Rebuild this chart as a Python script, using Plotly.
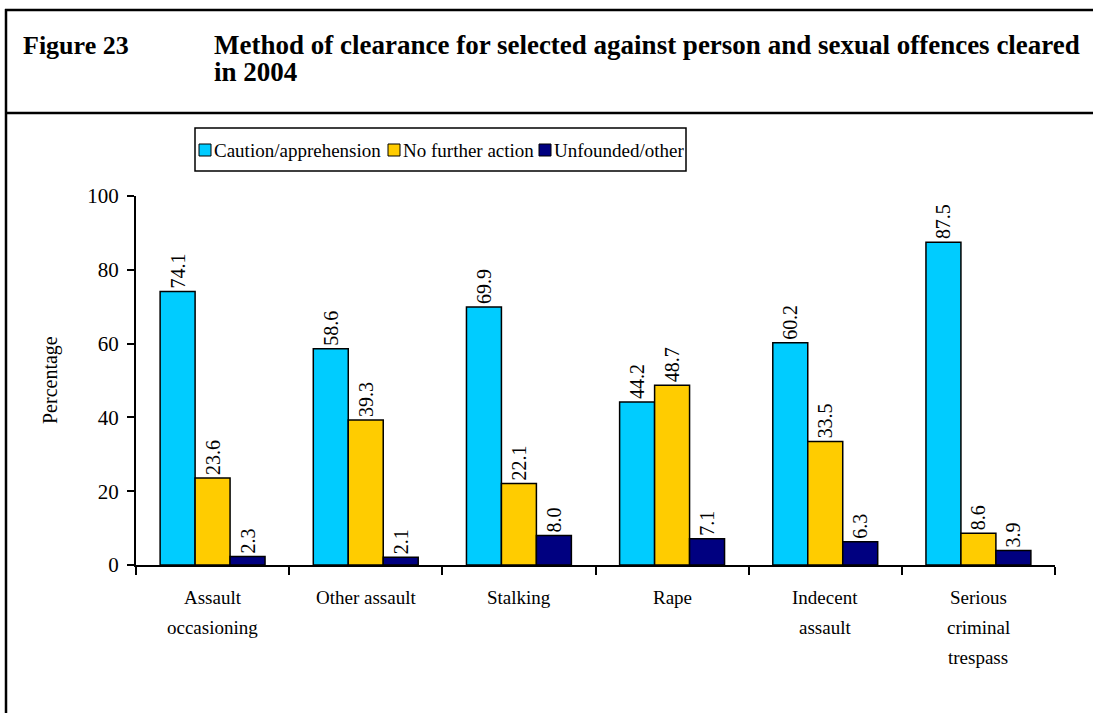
import plotly.graph_objects as go

categories = ["Assault<br>occasioning", "Other assault", "Stalking", "Rape",
              "Indecent<br>assault", "Serious<br>criminal<br>trespass"]
series_names = ["Caution/apprehension", "No further action", "Unfounded/other"]
caution = [74.1, 58.6, 69.9, 44.2, 60.2, 87.5]
no_further = [23.6, 39.3, 22.1, 48.7, 33.5, 8.6]
unfounded = [2.3, 2.1, 8.0, 7.1, 6.3, 3.9]
y_ticks = [0, 20, 40, 60, 80, 100]
colors = ["#00CCFF", "#FFCC00", "#000080"]

W, H = 1093, 713
L, R, T, B = 136, 1055, 196, 565
serif = "Liberation Serif"


def px(x):
    return (x - L) / (R - L)


def py(y):
    return (B - y) / (B - T)


fig = go.Figure()
for name, vals, col in zip(series_names, [caution, no_further, unfounded], colors):
    fig.add_trace(go.Bar(
        x=categories, y=vals, name=name,
        marker=dict(color=col, line=dict(color="black", width=1.5)),
        text=[f"{v:.1f}" for v in vals], textposition="outside", textangle=-90,
        textfont=dict(family=serif, size=20, color="black"),
        cliponaxis=False, showlegend=False,
    ))

shapes = [
    dict(type="line", xref="paper", yref="paper", x0=px(6), x1=px(6), y0=py(9), y1=py(713),
         line=dict(color="black", width=2.5)),
    dict(type="line", xref="paper", yref="paper", x0=px(5), x1=px(1093), y0=py(10), y1=py(10),
         line=dict(color="black", width=2.5)),
    dict(type="line", xref="paper", yref="paper", x0=px(5), x1=px(1093), y0=py(113), y1=py(113),
         line=dict(color="black", width=2.5)),
    # legend frame
    dict(type="rect", xref="paper", yref="paper", x0=px(195), x1=px(686), y0=py(128), y1=py(171),
         line=dict(color="black", width=1.5), fillcolor="white", layer="below"),
]
annotations = [
    dict(text="<b>Figure 23</b>", xref="paper", yref="paper", x=px(21), y=py(45),
         xanchor="left", yanchor="middle", showarrow=False,
         font=dict(family=serif, size=26, color="black")),
    dict(text="<b>Method of clearance for selected against person and sexual offences cleared</b>",
         xref="paper", yref="paper", x=px(212), y=py(45), xanchor="left", yanchor="middle",
         showarrow=False, font=dict(family=serif, size=27, color="black")),
    dict(text="<b>in 2004</b>",
         xref="paper", yref="paper", x=px(212), y=py(72), xanchor="left", yanchor="middle",
         showarrow=False, font=dict(family=serif, size=27, color="black")),
    dict(text="Percentage", xref="paper", yref="paper", x=px(50), y=py(380), textangle=-90,
         xanchor="center", yanchor="middle", showarrow=False,
         font=dict(family=serif, size=20, color="black")),
]

# category labels, one annotation per line (wider line spacing than Plotly's <br>)
for cat in categories:
    for i, line in enumerate(cat.split("<br>")):
        annotations.append(dict(text=line, xref="x", yref="paper", x=cat, y=py(597 + 30 * i),
                                xanchor="center", yanchor="middle", showarrow=False,
                                font=dict(family=serif, size=19, color="black")))

# custom legend (swatch + label) built from the series names / colours
leg_swatch_x = [199, 388, 539]
for name, col, sx in zip(series_names, colors, leg_swatch_x):
    shapes.append(dict(type="rect", xref="paper", yref="paper", x0=px(sx), x1=px(sx + 12),
                       y0=py(156), y1=py(144), fillcolor=col,
                       line=dict(color="black", width=1)))
    annotations.append(dict(text=name, xref="paper", yref="paper", x=px(sx + 13), y=py(150),
                            xanchor="left", yanchor="middle", showarrow=False,
                            font=dict(family=serif, size=19, color="black")))

fig.update_layout(
    width=W, height=H,
    margin=dict(l=L, r=W - R, t=T, b=H - B, pad=0),
    paper_bgcolor="white", plot_bgcolor="white",
    barmode="group", bargap=0.315, bargroupgap=0,
    font=dict(family=serif, size=20, color="black"),
    showlegend=False,
    shapes=shapes, annotations=annotations,
    xaxis=dict(showline=True, linecolor="black", linewidth=2, ticks="outside",
               tickson="boundaries", ticklen=8, tickcolor="black", tickwidth=1.5,
               showticklabels=False, showgrid=False),
    yaxis=dict(range=[0, 100], tickvals=y_ticks, showline=True, linecolor="black",
               linewidth=2, ticks="outside", ticklen=7, tickcolor="black", tickwidth=1.5,
               tickfont=dict(family=serif, size=21), ticklabelstandoff=4,
               showgrid=False, zeroline=False),
)

fig.write_html("out.html", post_script="document.body.style.margin='0';",
               config={"displayModeBar": False})
